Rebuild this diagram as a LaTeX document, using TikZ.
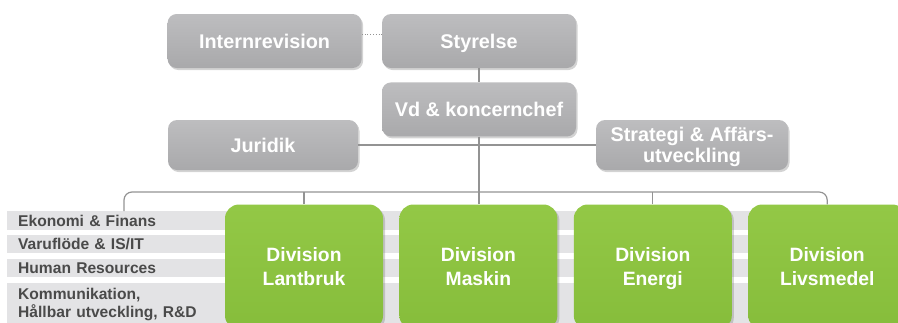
\documentclass[tikz,border=0pt]{standalone}
\usepackage{fontspec}
\setmainfont{Liberation Sans}
\usetikzlibrary{positioning,shadows}
\definecolor{boxtop}{HTML}{BDBDBF}
\definecolor{boxbot}{HTML}{A9A9AB}
\definecolor{divtop}{HTML}{93C846}
\definecolor{divbot}{HTML}{86BD3B}
\definecolor{bandgray}{HTML}{E3E3E5}
\definecolor{bandtext}{HTML}{4A4A4A}
\definecolor{linegray}{HTML}{939393}
\begin{document}
\begin{tikzpicture}[x=1pt, y=-1pt,
graybox/.style={rounded corners=9pt, top color=boxtop, bottom color=boxbot,
  text=white, font=\fontsize{19.8}{21}\selectfont\bfseries, align=center,
  minimum width=194pt, minimum height=54pt, inner sep=0pt, text depth=0pt,
  drop shadow={shadow xshift=1.5pt, shadow yshift=-2pt, opacity=0.35}},
divbox/.style={rounded corners=14pt, top color=divtop, bottom color=divbot,
  text=white, font=\fontsize{19.3}{24}\selectfont\bfseries, align=center,
  minimum width=158pt, minimum height=125pt, inner sep=0pt, text depth=0pt,
  drop shadow={shadow xshift=2pt, shadow yshift=-2pt, opacity=0.35}},
band/.style={fill=bandgray, text=bandtext, font=\fontsize{15.6}{18}\selectfont\bfseries,
  anchor=west, text width=869pt, align=left, inner xsep=11pt, inner ysep=0pt},
line/.style={draw=linegray, line width=1.2pt}]
\useasboundingbox (0,0) rectangle (898,322);
\clip (0,0) rectangle (898,322);

\node[band, minimum height=19pt, text height=11pt, text depth=0pt] (eko) at (7,220.5) {Ekonomi \& Finans};
\node[band, minimum height=18pt, text height=11pt, text depth=0pt] (varu) at (7,244) {Varuflöde \& IS/IT};
\node[band, minimum height=18pt, text height=11pt, text depth=0pt] (hr) at (7,268) {Human Resources};
\node[band, minimum height=43pt] (komm) at (7,304.5) {Kommunikation,\\Hållbar utveckling, R\&D};

\node[graybox] (styr) at (479,41) {Styrelse};
\node[graybox, left=20pt of styr] (intern) {Internrevision};
\node[graybox, below=14pt of styr] (vd) {Vd \& koncernchef};
\node[graybox, minimum width=190pt, minimum height=50pt] (jur) at (263,145) {Juridik};
\node[graybox, minimum width=192pt, minimum height=50pt] (strat) at (692,145) {Strategi \& Affärs-\\utveckling};

\node[divbox] (lant) at (304,267) {Division\\Lantbruk};
\node[divbox, right=16pt of lant] (mask) {Division\\Maskin};
\node[divbox, right=16pt of mask] (ener) {Division\\Energi};
\node[divbox, right=16pt of ener] (livs) {Division\\Livsmedel};

\coordinate (staff) at (124,211);
\coordinate (bus) at (479,192);

\draw[line, line width=0.8pt, dotted] ([yshift=7pt]intern.east) -- ([yshift=7pt]styr.west);
\draw[line] (styr) -- (vd);
\draw[line] (jur) -- (strat);
\draw[line] (vd.south) -- (vd.south |- mask.north);
\draw[line, rounded corners=8pt] (staff) |- (bus) -| (livs.north);
\draw[line] (lant.north) -- (lant.north |- bus);
\draw[line] (ener.north) -- (ener.north |- bus);
\end{tikzpicture}
\end{document}
